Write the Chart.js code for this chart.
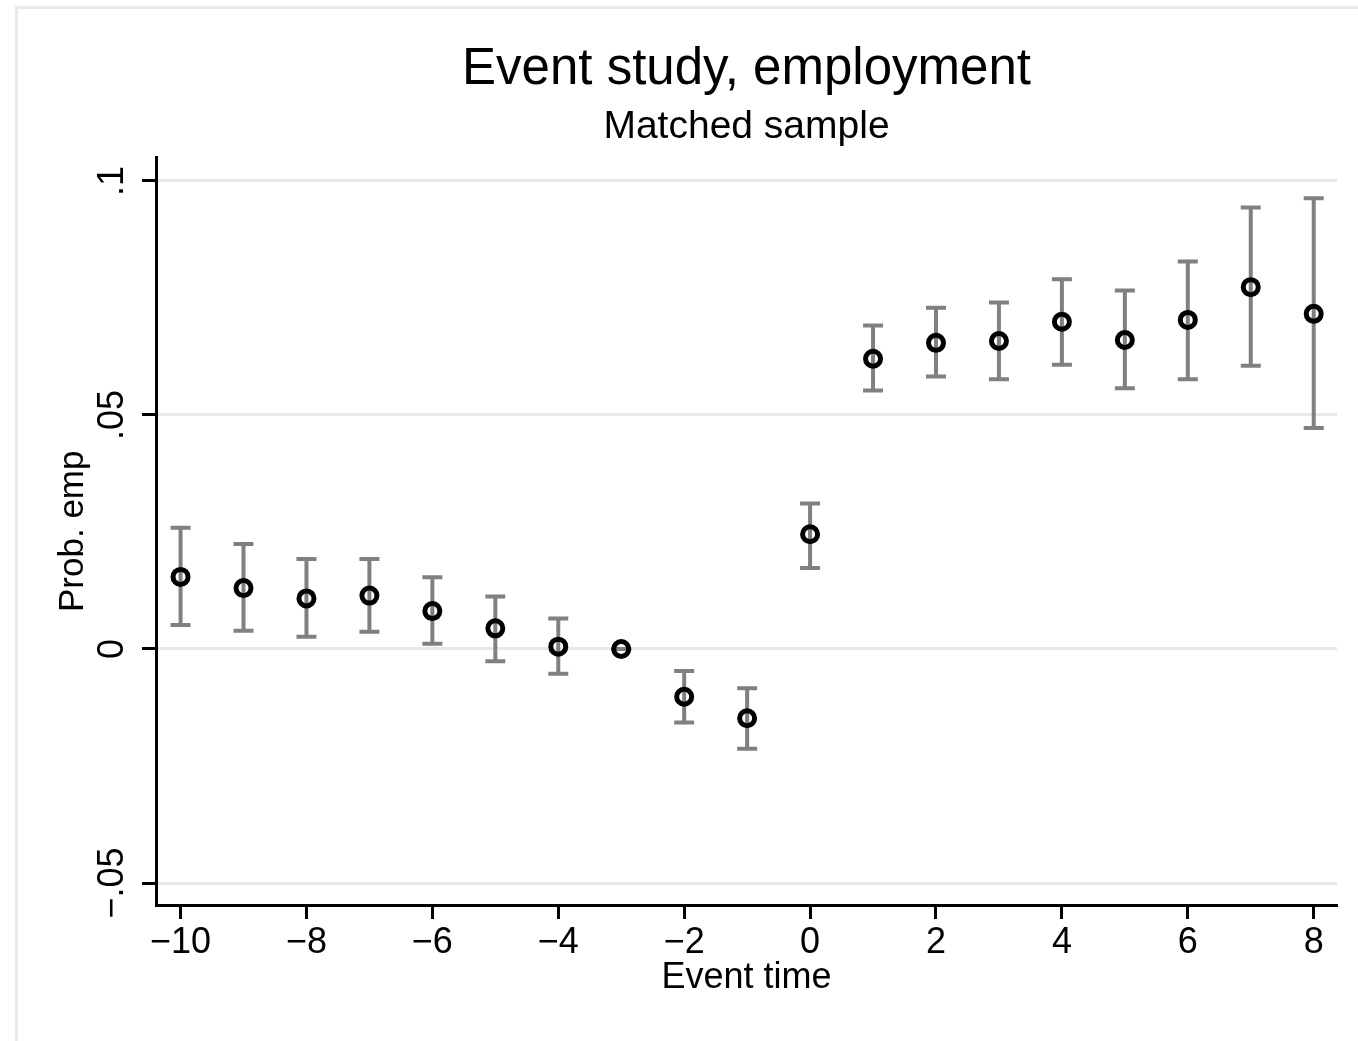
<!DOCTYPE html>
<html>
<head>
<meta charset="utf-8">
<script src="https://cdn.jsdelivr.net/npm/chart.js@4.4.1/dist/chart.umd.min.js"></script>
<style>
  html, body { margin: 0; padding: 0; background: #ffffff; }
  #wrap { width: 1358px; height: 1041px; }
</style>
</head>
<body>
<div id="wrap"><canvas id="c" width="1358" height="1041"></canvas></div>
<script>
// Event-study coefficients with 95% confidence bounds (reference period: t = -3)
const eventTime = [-10, -9, -8, -7, -6, -5, -4, -3, -2, -1, 0, 1, 2, 3, 4, 5, 6, 7, 8];
const coef   = [0.0154, 0.0130, 0.0108, 0.0114, 0.0081, 0.0044, 0.0005, 0.0000, -0.0102, -0.0148,
                0.0245, 0.0620, 0.0654, 0.0658, 0.0699, 0.0660, 0.0703, 0.0773, 0.0716];
const ciLow  = [0.0051, 0.0039, 0.0026, 0.0037, 0.0011, -0.0026, -0.0053, 0.0000, -0.0157, -0.0213,
                0.0173, 0.0552, 0.0582, 0.0576, 0.0607, 0.0557, 0.0576, 0.0605, 0.0472];
const ciHigh = [0.0259, 0.0224, 0.0192, 0.0192, 0.0153, 0.0112, 0.0065, 0.0000, -0.0047, -0.0084,
                0.0311, 0.0691, 0.0729, 0.0740, 0.0790, 0.0766, 0.0828, 0.0943, 0.0963];

const xTickValues = [-10, -8, -6, -4, -2, 0, 2, 4, 6, 8];
const xTickLabels = ['\u221210', '\u22128', '\u22126', '\u22124', '\u22122', '0', '2', '4', '6', '8'];
const yTickValues = [-0.05, 0, 0.05, 0.1];
const yTickLabels = ['\u2212.05', '0', '.05', '.1'];

const FONT = '"Liberation Sans", Arial, Helvetica, sans-serif';

// White background plus the light outline of the graph region
const frame = {
  id: 'frame',
  beforeDraw(chart) {
    const ctx = chart.ctx;
    ctx.save();
    ctx.fillStyle = '#ffffff';
    ctx.fillRect(0, 0, chart.width, chart.height);
    ctx.strokeStyle = '#eaeaea';
    ctx.lineWidth = 3;
    ctx.beginPath();
    ctx.moveTo(16.5, chart.height);
    ctx.lineTo(16.5, 7.5);
    ctx.lineTo(chart.width, 7.5);
    ctx.stroke();
    ctx.restore();
  }
};

// Capped confidence-interval bars, drawn beneath the markers
const errorBars = {
  id: 'errorBars',
  beforeDatasetsDraw(chart) {
    const ctx = chart.ctx;
    const xs = chart.scales.x, ys = chart.scales.y;
    const cap = 10;
    ctx.save();
    ctx.strokeStyle = '#808080';
    ctx.lineWidth = 4;
    ctx.lineCap = 'butt';
    eventTime.forEach((t, i) => {
      const px = xs.getPixelForValue(t);
      const lo = ys.getPixelForValue(ciLow[i]);
      const hi = ys.getPixelForValue(ciHigh[i]);
      ctx.beginPath();
      ctx.moveTo(px, lo); ctx.lineTo(px, hi);
      ctx.moveTo(px - cap, lo); ctx.lineTo(px + cap, lo);
      ctx.moveTo(px - cap, hi); ctx.lineTo(px + cap, hi);
      ctx.stroke();
    });
    ctx.restore();
  }
};

// Vertical y tick labels, centred on each tick
const yTickText = {
  id: 'yTickText',
  afterDraw(chart) {
    const ctx = chart.ctx;
    const ys = chart.scales.y;
    ctx.save();
    ctx.fillStyle = '#000000';
    ctx.font = '36px ' + FONT;
    ctx.textAlign = 'center';
    ctx.textBaseline = 'middle';
    yTickValues.forEach((v, i) => {
      const py = ys.getPixelForValue(v);
      ctx.save();
      ctx.translate(113, py);
      ctx.rotate(-Math.PI / 2);
      ctx.fillText(yTickLabels[i], 0, 0);
      ctx.restore();
    });
    ctx.restore();
  }
};

new Chart(document.getElementById('c'), {
  type: 'scatter',
  data: {
    datasets: [{
      data: eventTime.map((t, i) => ({ x: t, y: coef[i] })),
      pointRadius: 7.5,
      pointHoverRadius: 7.5,
      pointBorderWidth: 5,
      pointBorderColor: '#000000',
      pointBackgroundColor: 'rgba(0,0,0,0)',
      showLine: false
    }]
  },
  options: {
    responsive: false,
    animation: false,
    events: [],
    layout: { padding: { top: 0, left: 0, right: 21, bottom: 0 } },
    plugins: {
      legend: { display: false },
      tooltip: { enabled: false },
      title: {
        display: true,
        text: 'Event study, employment',
        fullSize: false,
        color: '#000000',
        font: { family: FONT, size: 51, weight: 'normal', lineHeight: 1.2 },
        padding: { top: 39, bottom: 0 }
      },
      subtitle: {
        display: true,
        text: 'Matched sample',
        fullSize: false,
        color: '#000000',
        font: { family: FONT, size: 39, weight: 'normal', lineHeight: 1.2 },
        padding: { top: 4, bottom: 6.5 }
      }
    },
    scales: {
      x: {
        type: 'linear',
        position: 'bottom',
        min: -10.39,
        max: 8.37,
        afterBuildTicks(scale) { scale.ticks = xTickValues.map(v => ({ value: v })); },
        afterFit(scale) { scale.height = 136; },
        ticks: {
          color: '#000000',
          font: { family: FONT, size: 36 },
          padding: 2,
          maxRotation: 0,
          autoSkip: false,
          callback: (v) => xTickLabels[xTickValues.indexOf(v)]
        },
        grid: {
          drawOnChartArea: false,
          drawTicks: true,
          tickLength: 14,
          tickWidth: 3,
          tickColor: '#000000'
        },
        border: { display: true, color: '#000000', width: 3 },
        title: {
          display: true,
          text: 'Event time',
          color: '#000000',
          font: { family: FONT, size: 36, lineHeight: 1.2 },
          padding: { top: 0, bottom: 41 }
        }
      },
      y: {
        type: 'linear',
        position: 'left',
        min: -0.0547,
        max: 0.1050,
        afterBuildTicks(scale) { scale.ticks = yTickValues.map(v => ({ value: v })); },
        afterFit(scale) { scale.width = 156; },
        ticks: { display: false },
        grid: {
          display: true,
          color: '#e8e8e8',
          lineWidth: 3,
          drawTicks: true,
          tickLength: 14,
          tickWidth: 3,
          tickColor: '#000000'
        },
        border: { display: true, color: '#000000', width: 3 },
        title: {
          display: true,
          text: 'Prob. emp',
          color: '#000000',
          font: { family: FONT, size: 35, lineHeight: 1.2 },
          padding: { top: 52, bottom: 0 }
        }
      }
    }
  },
  plugins: [frame, errorBars, yTickText]
});
</script>
</body>
</html>
